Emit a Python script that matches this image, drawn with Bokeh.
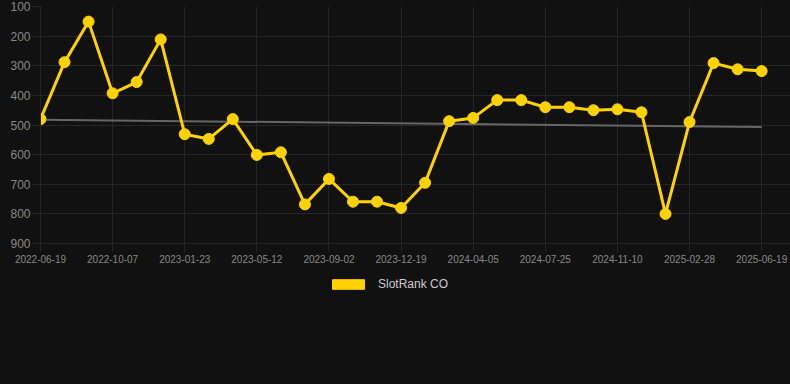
from bokeh.plotting import figure
from bokeh.layouts import column
from bokeh.models import (Range1d, FixedTicker, ColumnDataSource, Legend, LegendItem)
from bokeh.embed import file_html
from bokeh.resources import INLINE

# ---- data ----
rank = [480, 288, 151, 393, 355, 211, 531, 547, 480, 601, 592,
        768, 682, 759, 759, 780, 695, 487, 476, 416, 416,
        440, 440, 450, 447, 457, 800, 490, 291, 312, 318]
tick_labels = ["2022-06-19", "2022-10-07", "2023-01-23", "2023-05-12",
               "2023-09-02", "2023-12-19", "2024-04-05", "2024-07-25",
               "2024-11-10", "2025-02-28", "2025-06-19"]
tick_step = 3
trend_start_end = [482, 507]
series_name = "SlotRank CO"

idx = list(range(len(rank)))
ticks = [i * tick_step for i in range(len(tick_labels))]

BG = "#111111"
GRID = "#262626"
GOLD = "#ffd200"
FONT = "Liberation Sans"

p = figure(width=790, height=270, output_backend="svg", toolbar_location=None,
           x_range=Range1d(0, 31.2), y_range=Range1d(900, 100),
           min_border_left=40, min_border_right=0, min_border_top=6,
           min_border_bottom=27)
p.background_fill_color = BG
p.border_fill_color = BG
p.outline_line_color = None

p.xgrid.ticker = FixedTicker(ticks=ticks)
p.xgrid.grid_line_color = GRID
p.ygrid.grid_line_color = GRID

p.xaxis.ticker = FixedTicker(ticks=ticks)
p.xaxis.major_label_overrides = {t: l for t, l in zip(ticks, tick_labels)}
p.yaxis.ticker = FixedTicker(ticks=[100, 200, 300, 400, 500, 600, 700, 800, 900])

for ax in (p.xaxis[0], p.yaxis[0]):
    ax.axis_line_color = GRID
    ax.major_tick_line_color = GRID
    ax.major_tick_in = 0
    ax.major_tick_out = 8
    ax.minor_tick_line_color = None
    ax.major_label_text_font = FONT
    ax.major_label_text_color = "#888888"
p.xaxis.major_label_text_font_size = "10px"
p.xaxis.major_label_standoff = 3
p.yaxis.major_label_text_font_size = "12px"
p.yaxis.major_label_standoff = 2

src = ColumnDataSource(dict(x=idx, y=rank))
p.line([idx[0], idx[-1]], trend_start_end, line_color="#666666", line_width=2)
p.line("x", "y", source=src, line_color=GOLD, line_width=3)
p.scatter("x", "y", source=src, size=11, fill_color=GOLD, line_color=GOLD)

# legend strip below the chart
lg = figure(width=790, height=114, output_backend="svg", toolbar_location=None,
            x_range=Range1d(0, 1), y_range=Range1d(0, 1),
            min_border=0, x_axis_type=None, y_axis_type=None)
lg.background_fill_color = BG
lg.border_fill_color = BG
lg.outline_line_color = None
lg.grid.visible = False
swatch = lg.quad(left=[-3], right=[-2], top=[-2], bottom=[-3],
                 fill_color=GOLD, line_color=GOLD)
legend = Legend(items=[LegendItem(label=series_name, renderers=[swatch])],
                location=(288, 93), orientation="horizontal",
                glyph_width=40, glyph_height=12, label_height=12,
                label_standoff=10, padding=0, margin=0, spacing=0,
                label_text_font=FONT, label_text_font_size="12px",
                label_text_color="#cccccc",
                background_fill_alpha=0, border_line_alpha=0)
lg.add_layout(legend, "center")

page = column(p, lg, spacing=0)
template = "{% block postamble %}<style>html,body{background:#111111;margin:0;}</style>{% endblock %}"
open("out.html", "w").write(file_html(page, INLINE, template=template))
